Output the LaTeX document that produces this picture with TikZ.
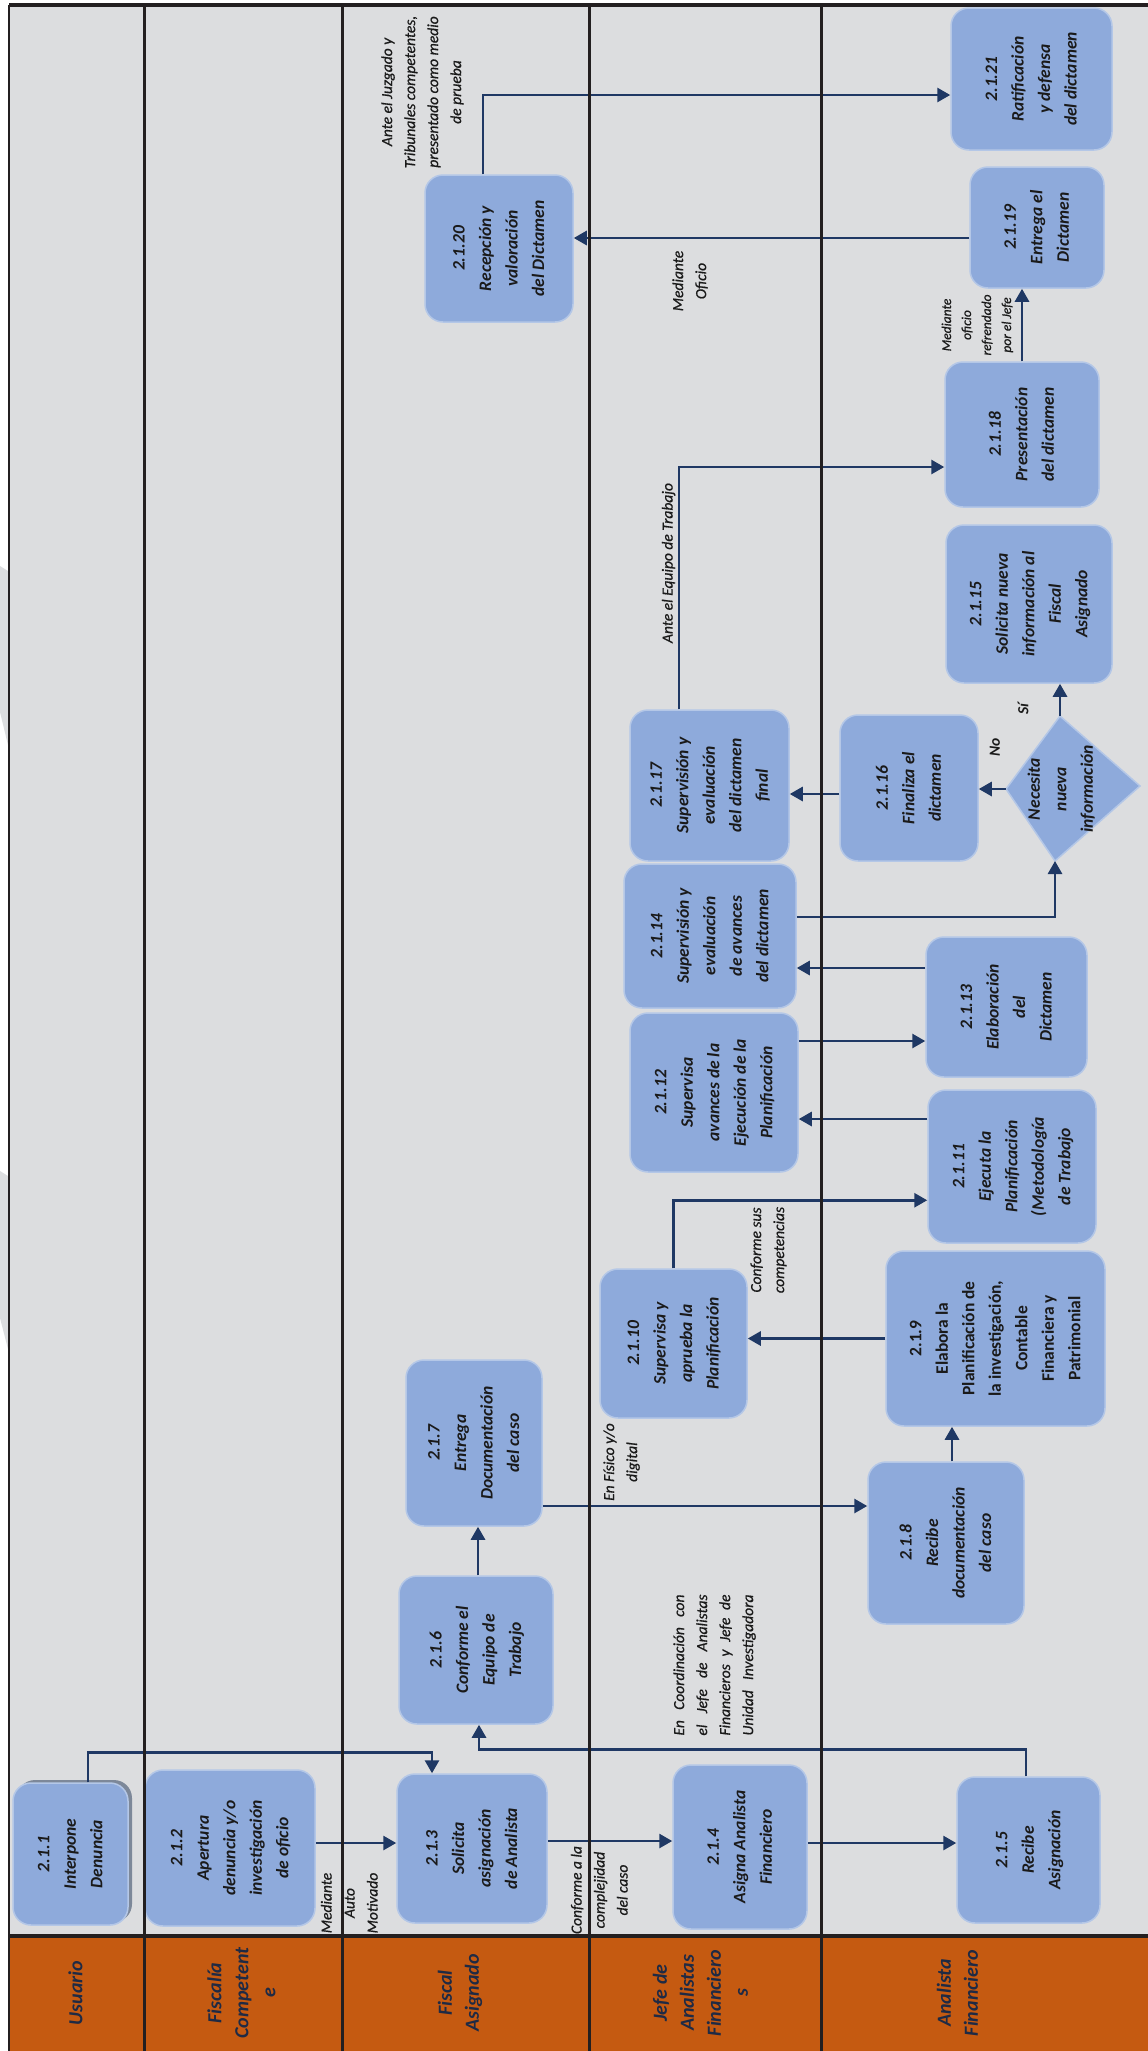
\documentclass[tikz,border=0pt]{standalone}
\usepackage{fontspec}
\setmainfont{Carlito}
\newfontfamily\labfont[ItalicFeatures={FakeBold=0.7}]{Carlito}
\usetikzlibrary{arrows.meta}
\definecolor{bg}{HTML}{DCDDDF}
\definecolor{hdr}{HTML}{C55A11}
\definecolor{boxf}{HTML}{8EAADB}
\definecolor{boxd}{HTML}{B4C7E7}
\definecolor{con}{HTML}{1F3864}
\definecolor{lane}{HTML}{231F20}
\definecolor{txt}{HTML}{1A1A1A}
\definecolor{htxt}{HTML}{1F2A44}
\definecolor{shad}{HTML}{7D8899}
\newcommand{\bxt}[1]{\rotatebox{90}{\fontsize{17.5}{26.5}\selectfont\bfseries\itshape\begin{tabular}{@{}c@{}}#1\end{tabular}}}
\newcommand{\bxu}[1]{\rotatebox{90}{\fontsize{17.5}{26.5}\selectfont\bfseries\begin{tabular}{@{}c@{}}#1\end{tabular}}}
\newcommand{\lbt}[1]{\rotatebox{90}{\labfont\fontsize{15.5}{23}\selectfont\itshape\begin{tabular}{@{}c@{}}#1\end{tabular}}}
\newcommand{\lbb}[1]{\rotatebox{90}{\fontsize{15.5}{23}\selectfont\bfseries\itshape #1}}
\newcommand{\sml}[1]{\rotatebox{90}{\labfont\fontsize{13.5}{20}\selectfont\itshape\begin{tabular}{@{}c@{}}#1\end{tabular}}}
\newcommand{\hdt}[1]{\rotatebox{90}{\fontsize{20}{27}\selectfont\bfseries\itshape\begin{tabular}{@{}c@{}}#1\end{tabular}}}
\newcommand{\jst}[1]{\makebox[141pt][s]{#1}}
\tikzset{
  proc/.style={draw=boxd, line width=1.5pt, fill=boxf, rounded corners=18pt, inner sep=0pt, text=txt},
  arr/.style={draw=con, line width=2.8pt, -{Triangle[length=13pt,width=14pt]}},
  lab/.style={inner sep=0pt, text=txt},
  hlab/.style={inner sep=0pt, text=htxt},
  lanel/.style={draw=lane, line width=3pt},
}
\begin{document}
\begin{tikzpicture}[x=1pt,y=-1pt]
\useasboundingbox (0,0) rectangle (1148,2051);
% background
\fill[white] (0,0) rectangle (1148,2051);
\fill[bg] (9,5) rectangle (1148,1936);
\fill[hdr] (9,1936) rectangle (1148,2051);
\fill[bg] (0,566) -- (8,571) -- (8,745) -- (0,712) -- cycle;
\fill[bg] (0,1171) -- (8,1176) -- (8,1349) -- (0,1318) -- cycle;

% boxes
\fill[shad, rounded corners=18pt] (17,1780) rectangle (132,1922);
\node[proc, minimum width=115pt, minimum height=142pt] (b211) at (70.5,1854) {\bxt{2.1.1\\Interpone\\Denuncia}};
\node[proc, minimum width=170pt, minimum height=156pt] (b212) at (230,1848) {\bxt{2.1.2\\Apertura\\denuncia y/o\\investigación\\de oficio}};
\node[proc, minimum width=150pt, minimum height=149pt] (b213) at (472,1848.5) {\bxt{2.1.3\\Solicita\\asignación\\de Analista}};
\node[proc, minimum width=134pt, minimum height=164pt] (b214) at (740,1847) {\bxt{2.1.4\\Asigna Analista\\Financiero}};
\node[proc, minimum width=143pt, minimum height=146pt] (b215) at (1028.5,1850) {\bxt{2.1.5\\Recibe\\Asignación}};
\node[proc, minimum width=154pt, minimum height=148pt] (b216) at (476,1650) {\bxt{2.1.6\\Conforme el\\Equipo de\\Trabajo}};
\node[proc, minimum width=136pt, minimum height=166pt] (b217) at (474,1443) {\bxt{2.1.7\\Entrega\\Documentación\\del caso}};
\node[proc, minimum width=156pt, minimum height=162pt] (b218) at (946,1543) {\bxt{2.1.8\\Recibe\\documentación\\del caso}};
\node[proc, minimum width=219pt, minimum height=175pt] (b219) at (995.5,1338.5) {\bxu{2.1.9\\Elabora la\\Planificación de\\la investigación,\\Contable\\Financiera y\\Patrimonial}};
\node[proc, minimum width=147pt, minimum height=149pt] (b2110) at (673.5,1343.5) {\bxt{2.1.10\\Supervisa y\\aprueba la\\Planificación}};
\node[proc, minimum width=168pt, minimum height=153pt] (b2111) at (1012,1166.5) {\bxt{2.1.11\\Ejecuta la\\Planificación\\(Metodología\\de Trabajo}};
\node[proc, minimum width=168pt, minimum height=159pt] (b2112) at (714,1092.5) {\bxt{2.1.12\\Supervisa\\avances de la\\Ejecución de la\\Planificación}};
\node[proc, minimum width=161pt, minimum height=140pt] (b2113) at (1006.5,1007) {\bxt{2.1.13\\Elaboración\\del\\Dictamen}};
\node[proc, minimum width=172pt, minimum height=144pt] (b2114) at (710,936) {\bxt{2.1.14\\Supervisión y\\evaluación\\de avances\\del dictamen}};
\node[proc, minimum width=166pt, minimum height=158pt] (b2115) at (1029,604) {\bxt{2.1.15\\Solicita nueva\\información al\\Fiscal\\Asignado}};
\node[proc, minimum width=138pt, minimum height=146pt] (b2116) at (909,788) {\bxt{2.1.16\\Finaliza el\\dictamen}};
\node[proc, minimum width=159pt, minimum height=151pt] (b2117) at (709.5,785.5) {\bxt{2.1.17\\Supervisión y\\evaluación\\del dictamen\\final}};
\node[proc, minimum width=154pt, minimum height=145pt] (b2118) at (1022,434.5) {\bxt{2.1.18\\Presentación\\del dictamen}};
\node[proc, minimum width=134pt, minimum height=121pt] (b2119) at (1037,227.5) {\bxt{2.1.19\\Entrega el\\Dictamen}};
\node[proc, minimum width=148pt, minimum height=147pt] (b2120) at (499,248.5) {\bxt{2.1.20\\Recepción y\\valoración\\del Dictamen}};
\node[proc, minimum width=161pt, minimum height=142pt] (b2121) at (1031.5,79) {\bxt{2.1.21\\Ratificación\\y defensa\\del dictamen}};

% decision
\coordinate (dtop) at (1060,716);
\coordinate (dright) at (1140,786);
\coordinate (dbot) at (1055,861);
\coordinate (dleft) at (1006,789);
\filldraw[fill=boxf, draw=boxd, line width=1.5pt] (dtop) -- (dright) -- (dbot) -- (dleft) -- cycle;
\node[lab] (dtx) at (1061,789) {\bxt{Necesita\\nueva\\información}};

% connectors
\coordinate (c1a) at ([xshift=17.5pt]b211.north);
\coordinate (c1b) at ([xshift=-40pt]b213.north);
\draw[arr] (c1a) -- ++(0,-30) -| (c1b);
\coordinate (c2) at ([yshift=5pt]b212.east);
\draw[arr] (c2) -- (c2 -| b213.west);
\coordinate (c3) at ([yshift=7.5pt]b213.east);
\draw[arr] (c3) -- (c3 -| b214.west);
\coordinate (c4) at ([yshift=4pt]b214.east);
\draw[arr] (c4) -- (c4 -| b215.west);
\coordinate (c5a) at ([xshift=-2.5pt]b215.north);
\coordinate (c5b) at ([xshift=3pt]b216.south);
\draw[arr] (c5a) -- ++(0,-27) -| (c5b);
\coordinate (c6) at ([xshift=2pt]b216.north);
\draw[arr] (c6) -- (c6 |- b217.south);
\coordinate (c7) at ([yshift=-63pt]b217.east);
\draw[arr] (c7) -- (c7 -| b218.west);
\coordinate (c8) at ([xshift=6pt]b218.north);
\draw[arr] (c8) -- (c8 |- b219.south);
\draw[arr] (b219.west) -- (b219.west -| b2110.east);
\coordinate (c10) at ([yshift=68pt]b2110.north);
\draw[arr] (b2110.north) -- (c10) -- (c10 -| b2111.west);
\coordinate (c11) at ([yshift=47.5pt]b2111.west);
\draw[arr] (c11) -- (c11 -| b2112.east);
\coordinate (c12) at ([yshift=51.5pt]b2112.east);
\draw[arr] (c12) -- (c12 -| b2113.west);
\coordinate (c13) at ([yshift=39pt]b2113.west);
\draw[arr] (c13) -- (c13 -| b2114.east);
\coordinate (c14) at ([yshift=19pt]b2114.east);
\draw[arr] (c14) -| (dbot);
\draw[arr] (dleft) -- (dleft -| b2116.east);
\draw[arr] (dtop) -- (dtop |- b2115.south);
\coordinate (c17) at ([yshift=-6pt]b2116.west);
\draw[arr] (c17) -- (c17 -| b2117.east);
\coordinate (c18a) at ([xshift=-30.5pt]b2117.north);
\coordinate (c18b) at ([yshift=-32.5pt]b2118.west);
\draw[arr] (c18a) |- (c18b);
\draw[arr] (b2118.north) -- (b2118.north |- b2119.south);
\coordinate (c20) at ([yshift=-10.5pt]b2119.west);
\draw[arr] (c20) -- (c20 -| b2120.east);
\coordinate (c21a) at ([xshift=-16pt]b2120.north);
\coordinate (c21b) at ([yshift=-16pt]b2121.west);
\draw[arr] (c21a) |- (c21b);

% lanes
\draw[lanel] (144,5) -- (144,2051);
\draw[lanel] (342,5) -- (342,2051);
\draw[lanel] (589,5) -- (589,2051);
\draw[lanel] (821,5) -- (821,2051);
\draw[draw=lane, line width=2.5pt] (9,5) -- (9,2051);
\draw[draw=lane, line width=4pt] (9,5) -- (1148,5);
\draw[draw=lane, line width=4pt] (9,1936) -- (1148,1936);

% labels
\node[lab] (l1) at (422,92) {\lbt{Ante el Juzgado y\\Tribunales competentes,\\presentado como medio\\de prueba}};
\node[lab] (l2) at (690,281) {\lbt{Mediante\\Oficio}};
\node[lab] (l3) at (668,563) {\lbt{Ante el Equipo de Trabajo}};
\node[lab] (l4) at (977,325) {\sml{Mediante\\oficio\\refrendado\\por el Jefe}};
\node[lab] (l5) at (1023,709) {\lbb{Sí}};
\node[lab] (l6) at (995,747) {\lbb{No}};
\node[lab] (l7) at (768,1250) {\lbt{Conforme sus\\competencias}};
\node[lab] (l8) at (621,1462) {\lbt{En Físico y/o\\digital}};
\node[lab] (l9) at (714,1665) {\lbt{\jst{En Coordinación con}\\\jst{el Jefe de Analistas}\\\jst{Financieros y Jefe de}\\\jst{Unidad Investigadora}}};
\node[lab] (l10) at (350,1903) {\lbt{Mediante\\Auto\\Motivado}};
\node[lab] (l11) at (600,1890) {\lbt{Conforme a la\\complejidad\\del caso}};

% headers
\node[hlab] (h1) at (77,1993) {\hdt{Usuario}};
\node[hlab] (h2) at (243,1993) {\hdt{Fiscalía\\Competent\\e}};
\node[hlab] (h3) at (460,1993) {\hdt{Fiscal\\Asignado}};
\node[hlab] (h4) at (702,1993) {\hdt{Jefe de\\Analistas\\Financiero\\s}};
\node[hlab] (h5) at (959,1993) {\hdt{Analista\\Financiero}};
\end{tikzpicture}
\end{document}
